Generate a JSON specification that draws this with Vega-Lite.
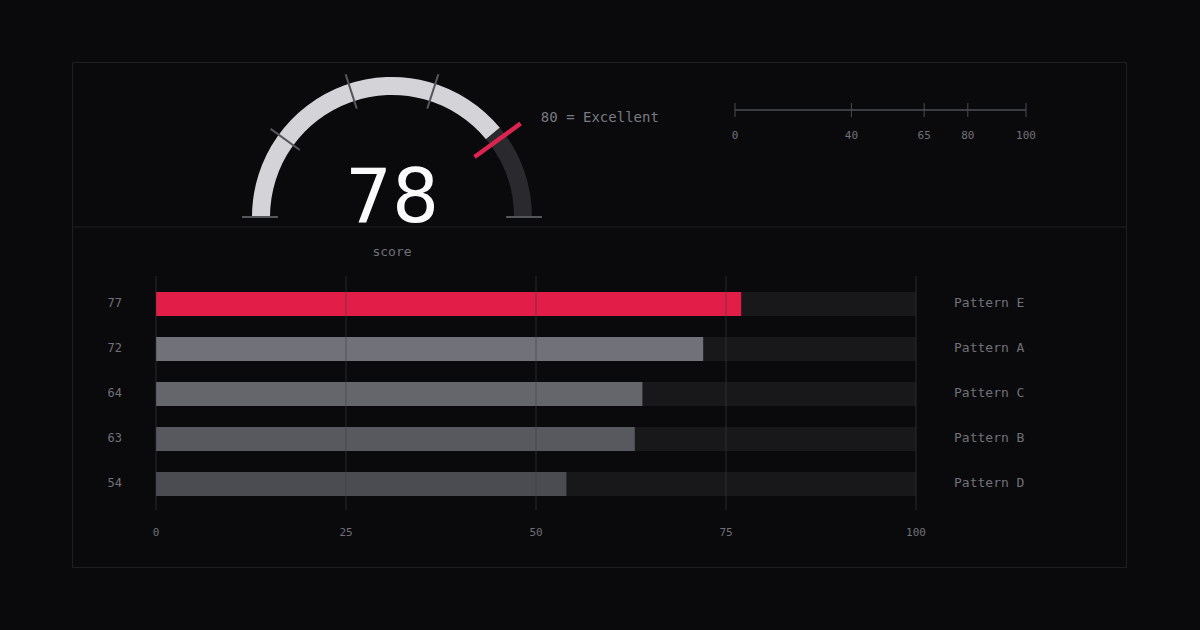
{
  "$schema": "https://vega.github.io/schema/vega-lite/v6.json",
  "width": 1200,
  "height": 630,
  "padding": 0,
  "autosize": "none",
  "background": "#0a0a0c",
  "config": {
    "view": {"stroke": null},
    "text": {"font": "DejaVu Sans Mono", "color": "#71717a"}
  },
  "resolve": {
    "scale": {"x": "independent", "y": "independent", "theta": "independent", "color": "independent"}
  },
  "layer": [
    {
      "data": {"values": [{}]},
      "layer": [
        {
          "mark": {"type": "rect", "fill": "transparent", "stroke": "#1f1f23", "strokeWidth": 1},
          "encoding": {
            "x": {"datum": 0, "type": "quantitative", "scale": {"domain": [0, 1], "range": [72.5, 1126.5]}, "axis": null},
            "x2": {"datum": 1},
            "y": {"datum": 0, "type": "quantitative", "scale": {"domain": [0, 505], "range": [62.5, 567.5]}, "axis": null},
            "y2": {"datum": 505}
          }
        },
        {
          "mark": {"type": "rule", "stroke": "#1f1f23", "strokeWidth": 1},
          "encoding": {
            "x": {"datum": 0, "type": "quantitative", "scale": {"domain": [0, 1], "range": [72.5, 1126.5]}, "axis": null},
            "x2": {"datum": 1},
            "y": {"datum": 164.5, "type": "quantitative", "scale": {"domain": [0, 505], "range": [62.5, 567.5]}, "axis": null}
          }
        }
      ]
    },
    {
      "layer": [
        {
          "data": {"values": [
            {"part": "score", "from": 0, "to": 78},
            {"part": "remaining", "from": 78, "to": 100}
          ]},
          "mark": {"type": "arc", "innerRadius": 122, "outerRadius": 140},
          "encoding": {
            "x": {"datum": 0, "type": "quantitative", "scale": {"domain": [-150, 150], "range": [242, 542]}, "axis": null},
            "y": {"datum": 0, "type": "quantitative", "scale": {"domain": [-150, 150], "range": [367, 67]}, "axis": null},
            "theta": {"field": "from", "type": "quantitative", "stack": null, "scale": {"domain": [0, 100], "range": [-1.5708, 1.5708]}},
            "theta2": {"field": "to"},
            "color": {"field": "part", "type": "nominal", "legend": null,
              "scale": {"domain": ["score", "remaining"], "range": ["#d4d4d8", "#2a2a2e"]}}
          }
        },
        {
          "data": {"values": [{"tick": 0}, {"tick": 20}, {"tick": 40}, {"tick": 60}, {"tick": 100}]},
          "mark": {"type": "arc", "innerRadius": 114, "outerRadius": 150, "stroke": "#55555c", "strokeWidth": 2, "fillOpacity": 0},
          "encoding": {
            "x": {"datum": 0, "type": "quantitative", "scale": {"domain": [-150, 150], "range": [242, 542]}, "axis": null},
            "y": {"datum": 0, "type": "quantitative", "scale": {"domain": [-150, 150], "range": [367, 67]}, "axis": null},
            "theta": {"field": "tick", "type": "quantitative", "stack": null, "scale": {"domain": [0, 100], "range": [-1.5708, 1.5708]}},
            "theta2": {"field": "tick"}
          }
        },
        {
          "data": {"values": [{"threshold": 80, "label": "80 = Excellent"}]},
          "layer": [
            {
              "mark": {"type": "arc", "innerRadius": 102, "outerRadius": 159, "stroke": "#dc2450", "strokeWidth": 4.5, "fillOpacity": 0},
              "encoding": {
                "x": {"datum": 0, "type": "quantitative", "scale": {"domain": [-150, 150], "range": [242, 542]}, "axis": null},
                "y": {"datum": 0, "type": "quantitative", "scale": {"domain": [-150, 150], "range": [367, 67]}, "axis": null},
                "theta": {"field": "threshold", "type": "quantitative", "stack": null, "scale": {"domain": [0, 100], "range": [-1.5708, 1.5708]}},
                "theta2": {"field": "threshold"}
              }
            },
            {
              "mark": {"type": "text", "radius": 184, "align": "left", "baseline": "middle", "dy": 9, "fontSize": 14, "color": "#7a7a82"},
              "encoding": {
                "x": {"datum": 0, "type": "quantitative", "scale": {"domain": [-150, 150], "range": [242, 542]}, "axis": null},
                "y": {"datum": 0, "type": "quantitative", "scale": {"domain": [-150, 150], "range": [367, 67]}, "axis": null},
                "theta": {"field": "threshold", "type": "quantitative", "stack": null, "scale": {"domain": [0, 100], "range": [-1.5708, 1.5708]}},
                "text": {"field": "label"}
              }
            }
          ]
        },
        {
          "data": {"values": [{"score": 78, "label": "score"}]},
          "layer": [
            {
              "mark": {"type": "text", "font": "DejaVu Sans", "fontSize": 74, "color": "#fafafa", "align": "center", "baseline": "alphabetic", "dy": 5},
              "encoding": {
                "x": {"datum": 0, "type": "quantitative", "scale": {"domain": [-150, 150], "range": [242, 542]}, "axis": null},
                "y": {"datum": 0, "type": "quantitative", "scale": {"domain": [-150, 150], "range": [367, 67]}, "axis": null},
                "text": {"field": "score"}
              }
            },
            {
              "mark": {"type": "text", "fontSize": 13, "align": "center", "baseline": "middle", "dy": 35},
              "encoding": {
                "x": {"datum": 0, "type": "quantitative", "scale": {"domain": [-150, 150], "range": [242, 542]}, "axis": null},
                "y": {"datum": 0, "type": "quantitative", "scale": {"domain": [-150, 150], "range": [367, 67]}, "axis": null},
                "text": {"field": "label"}
              }
            }
          ]
        }
      ]
    },
    {
      "data": {"values": [{"stop": 0}, {"stop": 40}, {"stop": 65}, {"stop": 80}, {"stop": 100}]},
      "layer": [
        {
          "mark": {"type": "rule", "stroke": "#3f3f46", "strokeWidth": 1},
          "encoding": {
            "x": {"datum": 0, "type": "quantitative", "scale": {"domain": [0, 100], "range": [735, 1026]}, "axis": null},
            "x2": {"datum": 100},
            "y": {"datum": 0, "type": "quantitative", "scale": {"domain": [-1, 1], "range": [117, 103]}, "axis": null}
          }
        },
        {
          "mark": {"type": "rule", "stroke": "#4a4a51", "strokeWidth": 1},
          "encoding": {
            "x": {"field": "stop", "type": "quantitative", "scale": {"domain": [0, 100], "range": [735, 1026]}, "axis": null},
            "y": {"datum": -1, "type": "quantitative", "scale": {"domain": [-1, 1], "range": [117, 103]}, "axis": null},
            "y2": {"datum": 1}
          }
        },
        {
          "mark": {"type": "text", "fontSize": 11, "align": "center", "baseline": "middle", "dy": 26},
          "encoding": {
            "x": {"field": "stop", "type": "quantitative", "scale": {"domain": [0, 100], "range": [735, 1026]}, "axis": null},
            "y": {"datum": 0, "type": "quantitative", "scale": {"domain": [-1, 1], "range": [117, 103]}, "axis": null},
            "text": {"field": "stop"}
          }
        }
      ]
    },
    {
      "data": {"values": [
        {"pattern": "Pattern E", "score": 77},
        {"pattern": "Pattern A", "score": 72},
        {"pattern": "Pattern C", "score": 64},
        {"pattern": "Pattern B", "score": 63},
        {"pattern": "Pattern D", "score": 54}
      ]},
      "layer": [
        {
          "mark": {"type": "bar", "color": "#18181b"},
          "encoding": {
            "x": {"datum": 0, "type": "quantitative", "scale": {"domain": [0, 100], "range": [156, 916]}, "axis": null},
            "x2": {"datum": 100},
            "y": {"field": "pattern", "type": "nominal", "axis": null,
              "scale": {"type": "band", "domain": ["Pattern E", "Pattern A", "Pattern C", "Pattern B", "Pattern D"], "range": [281.5, 506.5], "paddingInner": 0.4667, "paddingOuter": 0.2333}}
          }
        },
        {
          "mark": {"type": "bar"},
          "encoding": {
            "x": {"field": "score", "type": "quantitative", "scale": {"domain": [0, 100], "range": [156, 916]}, "axis": null},
            "y": {"field": "pattern", "type": "nominal", "axis": null,
              "scale": {"type": "band", "domain": ["Pattern E", "Pattern A", "Pattern C", "Pattern B", "Pattern D"], "range": [281.5, 506.5], "paddingInner": 0.4667, "paddingOuter": 0.2333}},
            "color": {"field": "pattern", "type": "nominal", "legend": null,
              "scale": {"domain": ["Pattern E", "Pattern A", "Pattern C", "Pattern B", "Pattern D"], "range": ["#e11d48", "#71717a", "#65656c", "#58585f", "#4b4c51"]}}
          }
        },
        {
          "mark": {"type": "text", "fontSize": 12, "align": "right", "baseline": "middle", "dx": -34, "dy": -1},
          "encoding": {
            "x": {"datum": 0, "type": "quantitative", "scale": {"domain": [0, 100], "range": [156, 916]}, "axis": null},
            "y": {"field": "pattern", "type": "nominal", "axis": null,
              "scale": {"type": "band", "domain": ["Pattern E", "Pattern A", "Pattern C", "Pattern B", "Pattern D"], "range": [281.5, 506.5], "paddingInner": 0.4667, "paddingOuter": 0.2333}},
            "text": {"field": "score"}
          }
        },
        {
          "mark": {"type": "text", "fontSize": 13, "align": "left", "baseline": "middle", "dx": 38, "dy": -1},
          "encoding": {
            "x": {"datum": 100, "type": "quantitative", "scale": {"domain": [0, 100], "range": [156, 916]}, "axis": null},
            "y": {"field": "pattern", "type": "nominal", "axis": null,
              "scale": {"type": "band", "domain": ["Pattern E", "Pattern A", "Pattern C", "Pattern B", "Pattern D"], "range": [281.5, 506.5], "paddingInner": 0.4667, "paddingOuter": 0.2333}},
            "text": {"field": "pattern"}
          }
        }
      ]
    },
    {
      "data": {"values": [{"v": 0}, {"v": 25}, {"v": 50}, {"v": 75}, {"v": 100}]},
      "layer": [
        {
          "mark": {"type": "rule", "stroke": "#3f3f46", "strokeWidth": 1.5, "opacity": 0.4},
          "encoding": {
            "x": {"field": "v", "type": "quantitative", "scale": {"domain": [0, 100], "range": [156, 916]}, "axis": null},
            "y": {"datum": 0, "type": "quantitative", "scale": {"domain": [0, 1], "range": [276, 510]}, "axis": null},
            "y2": {"datum": 1}
          }
        },
        {
          "mark": {"type": "text", "fontSize": 11, "align": "center", "baseline": "middle", "dy": 23},
          "encoding": {
            "x": {"field": "v", "type": "quantitative", "scale": {"domain": [0, 100], "range": [156, 916]}, "axis": null},
            "y": {"datum": 1, "type": "quantitative", "scale": {"domain": [0, 1], "range": [276, 510]}, "axis": null},
            "text": {"field": "v"}
          }
        }
      ]
    }
  ]
}
